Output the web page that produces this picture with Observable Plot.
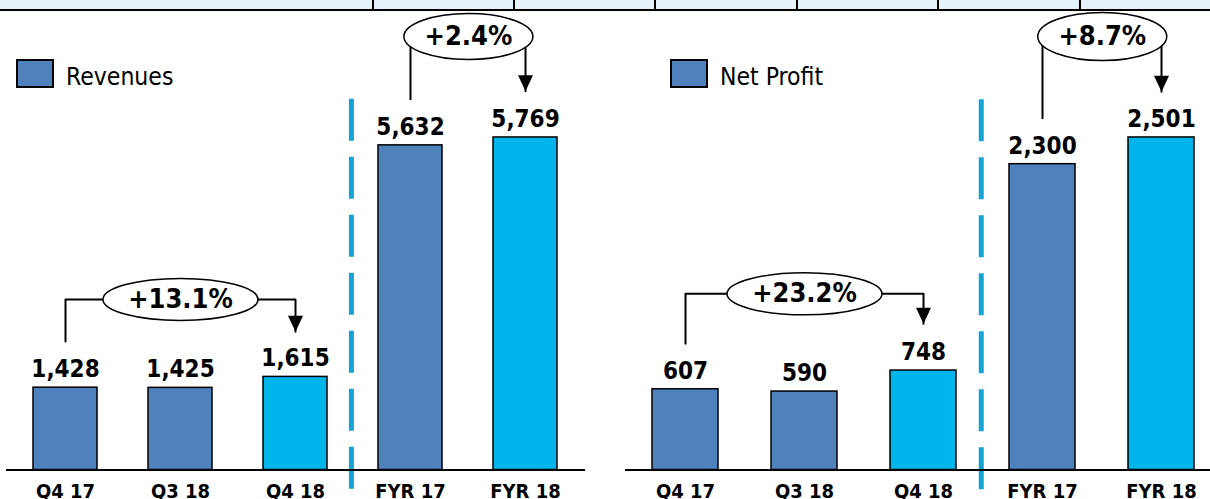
<!DOCTYPE html>
<html>
<head>
<meta charset="utf-8">
<script src="https://cdn.jsdelivr.net/npm/d3@7"></script>
<script src="https://cdn.jsdelivr.net/npm/@observablehq/plot@0.6"></script>
<style>
  body { margin: 0; background: #fff; }
  #wrap { position: relative; width: 1210px; height: 499px; overflow: hidden;
          font-family: 'DejaVu Sans Condensed', 'DejaVu Sans', sans-serif; font-stretch: condensed; }
  #strip { position: absolute; left: 0; top: 0; width: 1210px; height: 9px; background: #e6f2fa; border-bottom: 2px solid #000; }
  .vl { position: absolute; top: 0; width: 2px; height: 11px; background: #000; }
  .panel { position: absolute; top: 0; }
  #overlay { position: absolute; left: 0; top: 0; pointer-events: none; }
</style>
</head>
<body>
<div id="wrap">
  <div class="panel" id="p0" style="left:0px"></div>
  <div class="panel" id="p1" style="left:605px"></div>
  <div id="strip"></div>
  <svg id="overlay" width="1210" height="499"></svg>
</div>
<script>
// ---------- data ----------
const categories = ["Q4 17", "Q3 18", "Q4 18", "FYR 17", "FYR 18"];
const revenues = [1428, 1425, 1615, 5632, 5769];
const netProfit = [607, 590, 748, 2300, 2501];
const revenueChanges = ["+13.1%", "+2.4%"];
const profitChanges = ["+23.2%", "+8.7%"];
const legendLabels = ["Revenues", "Net Profit"];
const highlighted = ["Q4 18", "FYR 18"];

// ---------- style / layout ----------
const BLUE = "#4f81bd", CYAN = "#00b5ea", DASH = "#17a2d4";
const FONT = "'DejaVu Sans Condensed', 'DejaVu Sans', sans-serif";
const stripLines = [373, 514, 655, 797, 938, 1080];

const panels = [
  { values: revenues, changes: revenueChanges, legend: legendLabels[0], el: "#p0",
    yMax: 8145, marginLeft: 6, marginRight: 20, paddingInner: 0.44, paddingOuter: 0.22, align: 0.5,
    a: { lowLevel: 2960, lowStart: 2230, lowTip: 2400, highLevel: 7520, highStart: 6430, highTip: 6570,
         divTop: 6430, divBottom: -530 },
    lowR: [77.5, 21], highR: [64.5, 23], legendX: 16 },
  { values: netProfit, changes: profitChanges, legend: legendLabels[1], el: "#p1",
    yMax: 3531, marginLeft: 20, marginRight: 0, paddingInner: 0.448, paddingOuter: 0.1717, align: 0.634,
    a: { lowLevel: 1325, lowStart: 950, lowTip: 1100, highLevel: 3260, highStart: 2645, highTip: 2845,
         divTop: 2785, divBottom: -230 },
    lowR: [77.5, 21], highR: [64.5, 24], legendX: 670 }
];

function ellipseSymbol(rx, ry) {
  const k = 0.5523;
  return { draw(c) {
    c.moveTo(rx, 0);
    c.bezierCurveTo(rx, ry * k, rx * k, ry, 0, ry);
    c.bezierCurveTo(-rx * k, ry, -rx, ry * k, -rx, 0);
    c.bezierCurveTo(-rx, -ry * k, -rx * k, -ry, 0, -ry);
    c.bezierCurveTo(rx * k, -ry, rx, -ry * k, rx, 0);
    c.closePath();
  }};
}
const arrowHead = { draw(c) { c.moveTo(-7.5, -16); c.lineTo(7.5, -16); c.lineTo(0, 0); c.closePath(); } };

panels.forEach(p => {
  const W = 605;
  const n = categories.length;
  const step = (W - p.marginLeft - p.marginRight) / (n - p.paddingInner + 2 * p.paddingOuter);
  const rows = categories.map((c, i) => ({ category: c, value: p.values[i], hi: highlighted.includes(c) }));
  const [qA, qMid, qB, fA, fB] = categories;
  const a = p.a;
  const lowPath = [{ x: qA, y: a.lowStart }, { x: qA, y: a.lowLevel }, { x: qB, y: a.lowLevel }, { x: qB, y: a.lowTip + 0.0001 }];
  const highPath = [{ x: fA, y: a.highStart }, { x: fA, y: a.highLevel }, { x: fB, y: a.highLevel }, { x: fB, y: a.highTip }];

  const chart = Plot.plot({
    width: W, height: 499,
    marginTop: 0, marginBottom: 29.5, marginLeft: p.marginLeft, marginRight: p.marginRight,
    x: { type: "band", domain: categories, paddingInner: p.paddingInner, paddingOuter: p.paddingOuter, align: p.align },
    y: { domain: [0, p.yMax], axis: null },
    style: { fontFamily: FONT, background: "transparent", overflow: "visible", color: "black" },
    marks: [
      Plot.ruleX([qB], { x: d => d, y1: a.divTop, y2: a.divBottom, dx: step / 2 - 2, stroke: DASH, strokeWidth: 5, strokeDasharray: "42,16" }),
      Plot.barY(rows.filter(d => !d.hi), { x: "category", y: "value", fill: BLUE, stroke: "black", strokeWidth: 1.5 }),
      Plot.barY(rows.filter(d => d.hi), { x: "category", y: "value", fill: CYAN, stroke: "black", strokeWidth: 1.5 }),
      Plot.ruleY([0], { stroke: "black", strokeWidth: 2 }),
      Plot.text(rows, { x: "category", y: "value", text: d => d3.format(",")(d.value), lineAnchor: "bottom", dy: -10.5,
                        fontSize: 24, fontWeight: "bold", fill: "black", fontFamily: FONT }),
      Plot.axisX({ tickSize: 0, tickPadding: 14, fontSize: 20, fontWeight: "bold", fill: "black", fontFamily: FONT }),
      // brackets
      Plot.line(lowPath, { x: "x", y: "y", stroke: "black", strokeWidth: 2, curve: "linear" }),
      Plot.line(highPath, { x: "x", y: "y", stroke: "black", strokeWidth: 2, curve: "linear" }),
      Plot.dot([{ x: qB, y: a.lowTip }, { x: fB, y: a.highTip }], { x: "x", y: "y", symbol: arrowHead, fill: "black", stroke: "none", r: 8 }),
      Plot.dot([{ x: qMid, y: a.lowLevel }], { x: "x", y: "y", symbol: ellipseSymbol(...p.lowR), fill: "white", stroke: "black", strokeWidth: 1.5, r: 10 }),
      Plot.dot([{ x: fA, y: a.highLevel }], { x: "x", y: "y", dx: step / 2, symbol: ellipseSymbol(...p.highR), fill: "white", stroke: "black", strokeWidth: 1.5, r: 10 }),
      Plot.text([{ x: qMid, y: a.lowLevel, t: p.changes[0] }], { x: "x", y: "y", text: "t", fontSize: 27, fontWeight: "bold", fill: "black", fontFamily: FONT }),
      Plot.text([{ x: fA, y: a.highLevel, t: p.changes[1] }], { x: "x", y: "y", text: "t", dx: step / 2, fontSize: 27, fontWeight: "bold", fill: "black", fontFamily: FONT })
    ]
  });
  document.querySelector(p.el).appendChild(chart);

  // legend
  const ov = d3.select("#overlay");
  ov.append("rect").attr("x", p.legendX + 1).attr("y", 60).attr("width", 36).attr("height", 27)
    .attr("fill", BLUE).attr("stroke", "black").attr("stroke-width", 2);
  ov.append("text").attr("x", p.legendX + 50).attr("y", 85).attr("font-size", 24.5)
    .attr("font-family", FONT).attr("fill", "black").text(p.legend);
});

// top strip
const strip = document.getElementById("strip");
stripLines.forEach(x => {
  const d = document.createElement("div");
  d.className = "vl"; d.style.left = (x - 1) + "px";
  strip.appendChild(d);
});
</script>
</body>
</html>
